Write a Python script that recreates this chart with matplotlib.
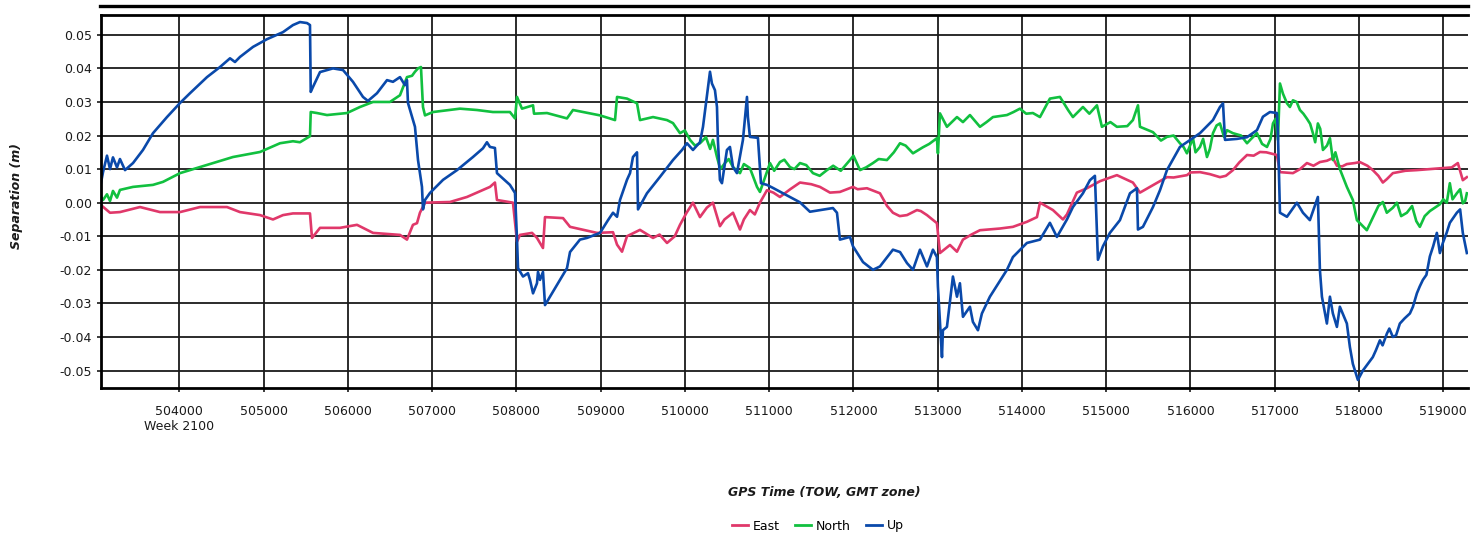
import matplotlib
matplotlib.use("Agg")
import matplotlib.pyplot as plt
from matplotlib.lines import Line2D
import matplotlib.transforms as mtransforms
import numpy as np

# ---------------- data ----------------
up_x = [503070, 503095, 503142, 503178, 503213, 503261, 503296, 503356, 503451, 503569,
        503688, 503854, 504009, 504127, 504329, 504483, 504602, 504661, 504720, 504875,
        505041, 505231, 505349, 505432, 505516, 505551, 505560, 505587, 505670, 505824,
        505943, 506061, 506180, 506239, 506346, 506465, 506536, 506619, 506678, 506702,
        506714, 506762, 506797, 506833, 506880, 506892, 506916, 506975, 507130, 507296,
        507485, 507604, 507651, 507687, 507746, 507770, 507924, 507984, 508008, 508020,
        508079, 508138, 508162, 508198, 508245, 508257, 508281, 508316, 508340, 508399,
        508518, 508601, 508637, 508755, 508838, 508993, 509088, 509147, 509195, 509230,
        509313, 509349, 509384, 509432, 509444, 509550, 509705, 509859, 509966, 510025,
        510096, 510179, 510215, 510262, 510298, 510321, 510357, 510381, 510392, 510416,
        510440, 510499, 510535, 510571, 510618, 510689, 510737, 510748, 510772, 510867,
        510903, 510974, 511045, 511366, 511484, 511757, 511805, 511840, 511959, 511995,
        512114, 512232, 512315, 512469, 512553, 512636, 512707, 512790, 512873, 512944,
        512991, 513003, 513051, 513062, 513110, 513181, 513229, 513264, 513300, 513383,
        513418, 513478, 513525, 513620, 513822, 513893, 514059, 514214, 514332, 514415,
        514534, 514605, 514724, 514807, 514866, 514902, 514961, 515044, 515163, 515282,
        515365, 515377, 515436, 515555, 515638, 515721, 515875, 516113, 516267, 516350,
        516386, 516410, 516552, 516671, 516789, 516860, 516943, 517026, 517038, 517062,
        517145, 517263, 517335, 517417, 517512, 517536, 517560, 517619, 517655, 517690,
        517738, 517773, 517856, 517892, 517927, 517987, 518046, 518164, 518248, 518331,
        518402, 518485, 518604, 518687, 518758, 518841, 518924, 518995, 519078, 519161,
        519232, 519280,
        518200, 518280, 518360, 518440, 518540, 518640, 518720, 518800, 518880, 518960,
        519040, 519120, 519200]
up_y = [0.0058, 0.0091, 0.0140, 0.0100, 0.0135, 0.0105, 0.0130, 0.0097, 0.0118, 0.0157,
        0.0207, 0.0255, 0.0297, 0.0326, 0.0374, 0.0404, 0.0430, 0.0419, 0.0434, 0.0464,
        0.0487, 0.0508, 0.0529, 0.0538, 0.0535, 0.0529, 0.0330, 0.0345, 0.0389, 0.0400,
        0.0395, 0.0360, 0.0315, 0.0303, 0.0326, 0.0365, 0.0360, 0.0374, 0.0350, 0.0365,
        0.0297, 0.0256, 0.0226, 0.0127, 0.0047, -0.0020, 0.0008, 0.0029, 0.0068, 0.0097,
        0.0136, 0.0162, 0.0180, 0.0166, 0.0163, 0.0088, 0.0053, 0.0029, -0.0110, -0.0195,
        -0.0220, -0.0210, -0.0230, -0.0270, -0.0240, -0.0206, -0.0230, -0.0206, -0.0305, -0.0280,
        -0.0230, -0.0195, -0.0147, -0.0110, -0.0105, -0.0090, -0.0052, -0.0030, -0.0042, 0.0008,
        0.0068, 0.0088, 0.0136, 0.0150, -0.0020, 0.0028, 0.0077, 0.0127, 0.0157, 0.0177,
        0.0157, 0.0180, 0.0226, 0.0320, 0.0390, 0.0355, 0.0335, 0.0285, 0.0185, 0.0068,
        0.0058, 0.0157, 0.0166, 0.0106, 0.0088, 0.0187, 0.0315, 0.0255, 0.0196, 0.0193,
        0.0058, 0.0053, 0.0044, 0.0001, -0.0027, -0.0016, -0.0030, -0.0110, -0.0102, -0.0130,
        -0.0177, -0.0200, -0.0190, -0.0140, -0.0147, -0.0180, -0.0200, -0.0140, -0.0190, -0.0140,
        -0.0162, -0.0250, -0.0460, -0.0380, -0.0370, -0.0220, -0.0280, -0.0240, -0.0340, -0.0310,
        -0.0355, -0.0380, -0.0330, -0.0280, -0.0200, -0.0162, -0.0120, -0.0110, -0.0060, -0.0102,
        -0.0050, -0.0013, 0.0028, 0.0067, 0.0080, -0.0170, -0.0130, -0.0090, -0.0052, 0.0028,
        0.0043, -0.0080, -0.0072, -0.0013, 0.0037, 0.0097, 0.0166, 0.0207, 0.0246, 0.0285,
        0.0296, 0.0187, 0.0190, 0.0195, 0.0216, 0.0256, 0.0270, 0.0267, 0.0207, -0.0030,
        -0.0042, 0.0000, -0.0030, -0.0052, 0.0017, -0.0200, -0.0280, -0.0360, -0.0280, -0.0330,
        -0.0370, -0.0310, -0.0360, -0.0430, -0.0480, -0.0528, -0.0500, -0.0460, -0.0410, -0.0390,
        -0.0400, -0.0360, -0.0330, -0.0270, -0.0230, -0.0160, -0.0090, -0.0120, -0.0060, -0.0030,
        -0.0090, -0.0150,
        -0.0440, -0.0425, -0.0375, -0.0395, -0.0345, -0.0310, -0.0250, -0.0215, -0.0130, -0.0150,
        -0.0090, -0.0045, -0.0020]

east_x = [503070, 503178, 503296, 503534, 503771, 504009, 504246, 504566, 504720, 504958,
          505112, 505231, 505349, 505551, 505575, 505670, 505907, 506109, 506299, 506619,
          506702, 506773, 506821, 506856, 506916, 507212, 507414, 507687, 507746, 507770,
          507960, 508008, 508043, 508186, 508245, 508316, 508340, 508554, 508637, 508957,
          509147, 509195, 509254, 509313, 509467, 509622, 509788, 509942, 510096, 510179,
          510333, 510416, 510571, 510654, 510772, 510891, 510974, 511128, 511366, 511603,
          511722, 511840, 511995, 512161, 512315, 512469, 512636, 512754, 512873, 512991,
          513027, 513146, 513229, 513300, 513502, 513739, 513893, 514059, 514178, 514214,
          514368, 514487, 514534, 514652, 514771, 514926, 515127, 515317, 515401, 515555,
          515721, 515958, 516113, 516350, 516504, 516671, 516825, 517026, 517062, 517216,
          517382, 517536, 517690, 517738, 517856, 518010, 518164, 518283, 518402, 518687,
          518995, 519173, 519232, 519280,
          509700, 509880, 510020, 510260, 510470, 510700, 510830, 511050, 511250, 511500,
          512050, 512400, 512550, 512800, 513400, 513600, 515800, 516000, 516230, 516420,
          516580, 516750, 516900, 517300, 517460, 517620, 517800, 517950, 518100, 518230,
          518330, 518550, 518850, 519100]
east_y = [-0.0007, -0.0030, -0.0028, -0.0013, -0.0028, -0.0028, -0.0013, -0.0013, -0.0028, -0.0037,
          -0.0050, -0.0037, -0.0032, -0.0032, -0.0105, -0.0075, -0.0075, -0.0066, -0.0090, -0.0096,
          -0.0110, -0.0066, -0.0061, -0.0030, 0.0000, 0.0002, 0.0017, 0.0047, 0.0060, 0.0008,
          0.0000, -0.0116, -0.0096, -0.0090, -0.0105, -0.0135, -0.0043, -0.0046, -0.0072, -0.0090,
          -0.0088, -0.0125, -0.0146, -0.0100, -0.0081, -0.0105, -0.0120, -0.0066, 0.0000, -0.0043,
          0.0000, -0.0070, -0.0030, -0.0080, -0.0022, 0.0000, 0.0037, 0.0017, 0.0060, 0.0047,
          0.0030, 0.0032, 0.0047, 0.0043, 0.0028, -0.0030, -0.0037, -0.0022, -0.0037, -0.0061,
          -0.0150, -0.0126, -0.0146, -0.0110, -0.0082, -0.0077, -0.0072, -0.0057, -0.0043, 0.0000,
          -0.0022, -0.0050, -0.0035, 0.0030, 0.0043, 0.0064, 0.0082, 0.0060, 0.0030, 0.0052,
          0.0076, 0.0082, 0.0091, 0.0076, 0.0097, 0.0142, 0.0151, 0.0142, 0.0091, 0.0088,
          0.0118, 0.0121, 0.0133, 0.0110, 0.0115, 0.0121, 0.0097, 0.0060, 0.0088, 0.0097,
          0.0103, 0.0118, 0.0067, 0.0076,
          -0.0095, -0.0100, -0.0030, -0.0015, -0.0050, -0.0050, -0.0035, 0.0030, 0.0040, 0.0055,
          0.0040, -0.0010, -0.0040, -0.0025, -0.0095, -0.0080, 0.0075, 0.0090, 0.0085, 0.0080,
          0.0120, 0.0140, 0.0150, 0.0100, 0.0110, 0.0125, 0.0108, 0.0118, 0.0110, 0.0080,
          0.0070, 0.0095, 0.0100, 0.0105]

north_x = [503070, 503095, 503142, 503178, 503213, 503261, 503296, 503451, 503688, 503807,
           504009, 504246, 504637, 504958, 505195, 505349, 505432, 505551, 505560, 505634,
           505753, 505990, 506144, 506299, 506500, 506619, 506702, 506762, 506797, 506833,
           506868, 506892, 506916, 507011, 507331, 507533, 507722, 507924, 507984, 508008,
           508067, 508198, 508210, 508364, 508601, 508672, 508993, 509171, 509195, 509313,
           509432, 509467, 509622, 509788, 509859, 509942, 510061, 510179, 510333, 510381,
           510476, 510571, 510654, 510772, 510856, 510891, 511010, 511128, 511247, 511366,
           511520, 511686, 511959, 512078, 512232, 512398, 512553, 512707, 512825, 512991,
           513003, 513027, 513110, 513229, 513383, 513502, 513656, 513822, 513976, 514130,
           514214, 514332, 514451, 514605, 514724, 514890, 514949, 515127, 515317, 515377,
           515401, 515555, 515721, 515875, 515958, 516030, 516113, 516196, 516267, 516350,
           516433, 516504, 516671, 516789, 516908, 516979, 517038, 517062, 517097, 517145,
           517216, 517299, 517382, 517453, 517512, 517572, 517655, 517690, 517773, 517856,
           517927, 517975, 518093, 518164, 518283, 518402, 518568, 518722, 518841, 518959,
           519042, 519078, 519161, 519232, 519280,
           510000, 510120, 510250, 510300, 510420, 510520, 510620, 510700,
           511060, 511180, 511300, 511440, 511600, 511760, 511850, 512000, 512150, 512300,
           512480, 512620, 512760, 512900,
           513300, 513580, 513900, 514050, 514550, 514800, 515050, 515250,
           515650, 515800, 515920, 516060, 516150, 516230, 516310, 516400, 516600, 516720,
           516850, 516950, 517010,
           517180, 517260, 517340, 517420, 517480, 517540, 517620, 517720,
           518230, 518330, 518450, 518500, 518630, 518680, 518780, 518900, 519000, 519110,
           519200, 519260]
north_y = [0.0017, 0.0008, 0.0025, 0.0005, 0.0035, 0.0015, 0.0038, 0.0047, 0.0053, 0.0062,
           0.0088, 0.0106, 0.0136, 0.0151, 0.0177, 0.0183, 0.0180, 0.0198, 0.0270, 0.0267,
           0.0261, 0.0267, 0.0285, 0.0300, 0.0300, 0.0320, 0.0374, 0.0378, 0.0390, 0.0400,
           0.0404, 0.0285, 0.0260, 0.0270, 0.0280, 0.0276, 0.0270, 0.0270, 0.0251, 0.0315,
           0.0280, 0.0290, 0.0265, 0.0267, 0.0251, 0.0276, 0.0260, 0.0246, 0.0315, 0.0310,
           0.0296, 0.0246, 0.0255, 0.0246, 0.0237, 0.0207, 0.0187, 0.0177, 0.0187, 0.0136,
           0.0118, 0.0106, 0.0088, 0.0103, 0.0047, 0.0032, 0.0118, 0.0121, 0.0106, 0.0118,
           0.0088, 0.0097, 0.0127, 0.0097, 0.0118, 0.0127, 0.0177, 0.0147, 0.0165, 0.0192,
           0.0147, 0.0266, 0.0226, 0.0255, 0.0261, 0.0226, 0.0255, 0.0261, 0.0280, 0.0267,
           0.0255, 0.0310, 0.0315, 0.0255, 0.0285, 0.0290, 0.0226, 0.0226, 0.0246, 0.0290,
           0.0226, 0.0210, 0.0196, 0.0177, 0.0147, 0.0192, 0.0166, 0.0136, 0.0207, 0.0236,
           0.0216, 0.0207, 0.0177, 0.0207, 0.0166, 0.0236, 0.0187, 0.0355, 0.0325, 0.0296,
           0.0305, 0.0276, 0.0250, 0.0207, 0.0236, 0.0157, 0.0192, 0.0127, 0.0100, 0.0047,
           0.0008, -0.0052, -0.0082, -0.0045, 0.0002, -0.0015, -0.0030, -0.0072, -0.0025, -0.0005,
           0.0000, 0.0058, 0.0028, -0.0002, 0.0028,
           0.0215, 0.0170, 0.0195, 0.0160, 0.0100, 0.0130, 0.0095, 0.0115,
           0.0095, 0.0128, 0.0100, 0.0112, 0.0080, 0.0110, 0.0095, 0.0140, 0.0105, 0.0130,
           0.0150, 0.0170, 0.0155, 0.0175,
           0.0240, 0.0240, 0.0270, 0.0265, 0.0275, 0.0265, 0.0240, 0.0228,
           0.0185, 0.0200, 0.0165, 0.0150, 0.0190, 0.0160, 0.0230, 0.0195, 0.0200, 0.0190,
           0.0175, 0.0190, 0.0250,
           0.0285, 0.0300, 0.0265, 0.0235, 0.0180, 0.0220, 0.0170, 0.0150,
           -0.0010, -0.0030, 0.0000, -0.0040, -0.0010, -0.0055, -0.0040, -0.0015, 0.0010, 0.0010,
           0.0040, 0.0005]

x_ticks = [504000, 505000, 506000, 507000, 508000, 509000, 510000, 511000,
           512000, 513000, 514000, 515000, 516000, 517000, 518000, 519000]
y_ticks = [-0.05, -0.04, -0.03, -0.02, -0.01, 0.00, 0.01, 0.02, 0.03, 0.04, 0.05]
week_label = "Week 2100"

series = [("East", east_x, east_y, "#E0386A"),
          ("North", north_x, north_y, "#11C03F"),
          ("Up", up_x, up_y, "#0A49AA")]

# ---------------- figure ----------------
plt.rcParams['font.family'] = ['DejaVu Sans']
fig = plt.figure(figsize=(14.84, 5.37), dpi=100)
ax = fig.add_axes([101 / 1484, 1 - 388 / 537, (1467.7 - 101) / 1484, (388 - 15) / 537])

for name, xs, ys, col in series:
    xs = np.asarray(xs, dtype=float)
    ys = np.asarray(ys, dtype=float)
    order = np.argsort(xs, kind='stable')
    ax.plot(xs[order], ys[order], color=col, lw=1.9, label=name)

ax.set_xlim(503071, 519290)
ax.set_ylim(-0.0552, 0.0559)
ax.set_xticks(x_ticks)
ax.set_xticklabels([str(t) for t in x_ticks])
ax.set_yticks(y_ticks)
ax.set_yticklabels([f"{t:.2f}" for t in y_ticks])
ax.grid(True, color="#1a1a1a", lw=1.3)
ax.set_axisbelow(True)
ax.tick_params(axis='both', labelsize=9, colors="#1a1a1a", length=3, width=1.2)
ax.tick_params(axis='x', pad=9)
for s in ['left', 'bottom', 'top']:
    ax.spines[s].set_color('black')
    ax.spines[s].set_linewidth(2.0)
ax.spines['right'].set_visible(False)

# outer top frame line
fig.add_artist(Line2D([100 / 1484, 1467.7 / 1484], [1 - 6 / 537, 1 - 6 / 537],
                      transform=fig.transFigure, color='black', lw=2.4))

# week label under the first tick
trans = mtransforms.blended_transform_factory(ax.transData, fig.transFigure)
ax.text(x_ticks[0], 1 - 426 / 537, week_label, transform=trans,
        ha='center', va='center', fontsize=9, color="#1a1a1a")

fig.text(17 / 1484, 1 - 196 / 537, "Separation (m)", rotation=90, ha='center', va='center',
         fontsize=9, fontweight='bold', fontstyle='italic', color="#1a1a1a")
fig.text(824 / 1484, 1 - 492 / 537, "GPS Time (TOW, GMT zone)", ha='center', va='center',
         fontsize=9, fontweight='bold', fontstyle='italic', color="#1a1a1a")

handles = [Line2D([0], [0], color=c, lw=2) for _, _, _, c in series]
fig.legend(handles, [n for n, _, _, _ in series], loc='center',
           bbox_to_anchor=(818 / 1484, 1 - 526 / 537), ncol=3, frameon=False,
           fontsize=9, handlelength=1.3, handletextpad=0.4, columnspacing=1.2)

fig.savefig("out.png", dpi=100)
